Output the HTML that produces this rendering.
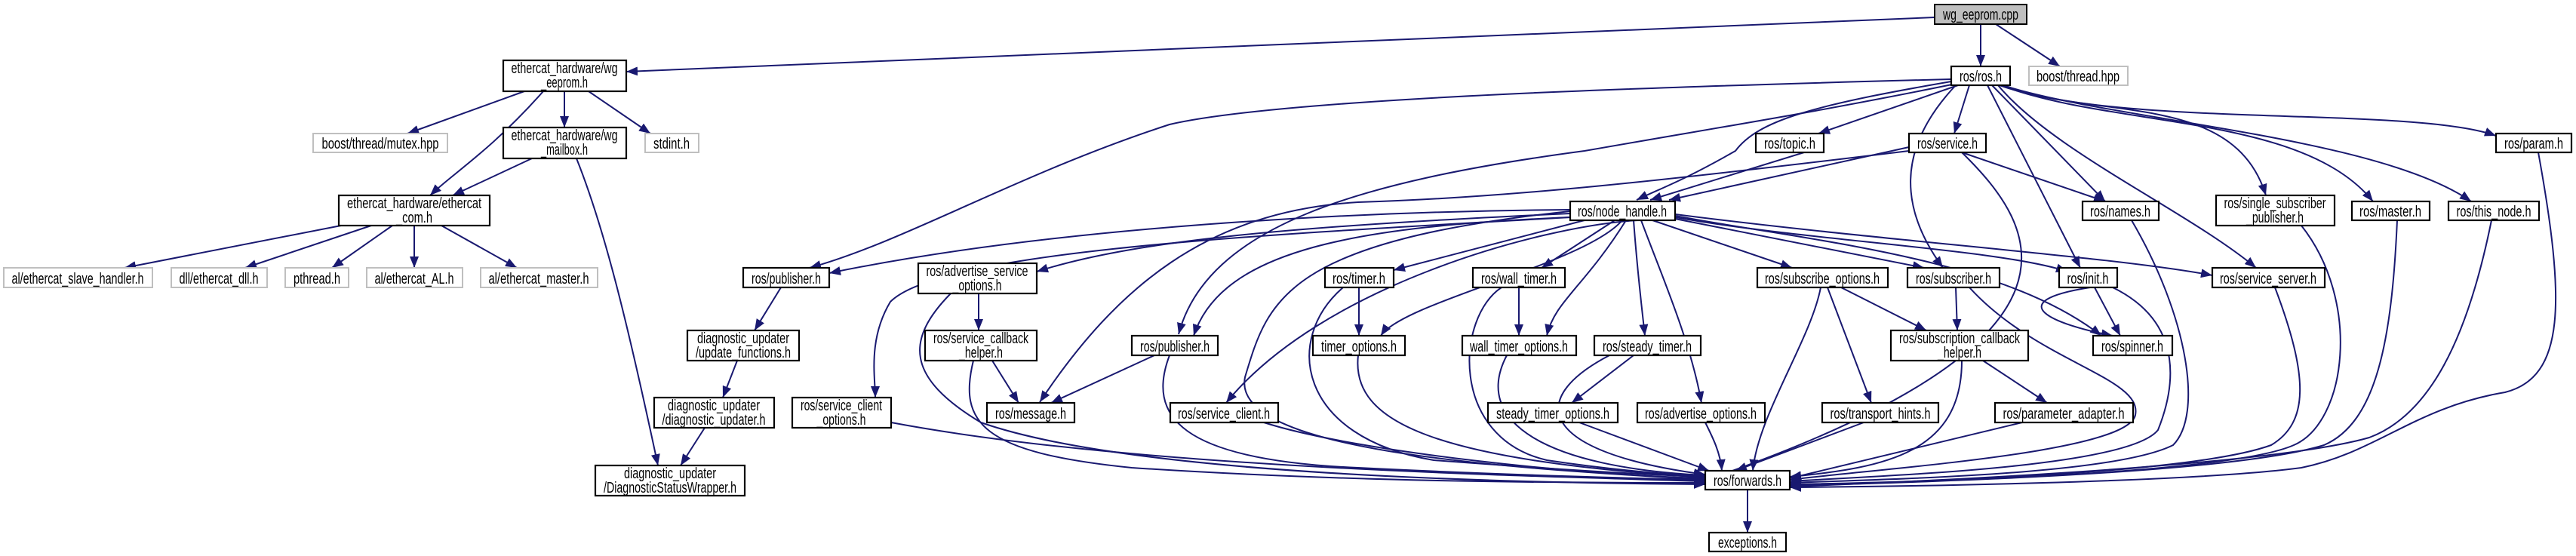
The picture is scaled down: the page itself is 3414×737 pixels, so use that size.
<!DOCTYPE html>
<html><head><meta charset="utf-8"><style>html,body{margin:0;padding:0;background:#fff}svg{display:block}</style></head><body>
<svg xmlns="http://www.w3.org/2000/svg" width="3414" height="737" viewBox="0 0 3414 737">
<defs><marker id="a" markerUnits="userSpaceOnUse" markerWidth="16" markerHeight="12" refX="15" refY="6" orient="auto"><path d="M0,0 L15,6 L0,12 z" fill="#191970"/></marker></defs>
<g fill="none" stroke="#191970" stroke-width="2" marker-end="url(#a)">
<path d="M2564,23 L830,95"/>
<path d="M2625,32 L2625,88"/>
<path d="M2645,32 L2730,88"/>
<path d="M695,121 L540,177"/>
<path d="M720,121 C650,200 600,230 570,259"/>
<path d="M748,121 L748,169"/>
<path d="M780,121 L862,177"/>
<path d="M705,210 L600,259"/>
<path d="M764,210 C800,300 830,420 872,617"/>
<path d="M452,299 L165,355"/>
<path d="M492,299 L325,355"/>
<path d="M520,299 L440,355"/>
<path d="M549,299 L549,355"/>
<path d="M585,299 L685,355"/>
<path d="M1035,381 L1000,438"/>
<path d="M977,478 L958,527"/>
<path d="M934,567 L902,617"/>
<path d="M2586,105 C2200,115 1700,130 1550,165 C1350,230 1200,320 1073,355"/>
<path d="M2586,108 C2400,140 2330,160 2300,200 C2230,240 2200,250 2169,265"/>
<path d="M2587,112 C2400,150 2300,165 2100,200 C1800,240 1600,300 1562,443"/>
<path d="M2595,113 L2410,177"/>
<path d="M2610,113 L2590,177"/>
<path d="M2592,113 C2510,200 2520,280 2575,355"/>
<path d="M2634,113 L2757,355"/>
<path d="M2640,113 L2790,267"/>
<path d="M2648,113 C2720,200 2900,280 2990,355"/>
<path d="M2650,113 C2780,160 2960,120 3003,259"/>
<path d="M2652,113 C2800,170 3050,150 3145,267"/>
<path d="M2654,113 C2800,160 3150,180 3275,267"/>
<path d="M2656,113 C2800,170 3200,140 3308,180"/>
<path d="M2417,194 L2187,265"/>
<path d="M2530,195 L2212,265"/>
<path d="M2530,200 C2200,240 2000,262 1800,268 C1600,280 1480,380 1378,533"/>
<path d="M2600,202 L2790,267"/>
<path d="M2600,202 C2700,300 2800,450 2262,636"/>
<path d="M2081,278 C1800,280 1400,300 1099,362"/>
<path d="M2081,283 C1700,300 1500,320 1374,360"/>
<path d="M2081,288 C1800,300 1620,330 1582,445"/>
<path d="M2081,288 C1700,310 1250,330 1180,400 C1150,450 1160,500 1160,527"/>
<path d="M2100,292 L1847,358"/>
<path d="M2140,292 L2043,355"/>
<path d="M2150,292 C2100,350 1860,400 1830,445"/>
<path d="M2155,292 C2100,380 2060,400 2050,445"/>
<path d="M2165,292 C2170,360 2175,400 2180,445"/>
<path d="M2175,292 C2200,360 2240,450 2255,534"/>
<path d="M2170,292 C2040,300 1750,380 1625,534"/>
<path d="M2190,292 L2375,355"/>
<path d="M2220,290 L2550,355"/>
<path d="M2220,288 C2400,320 2650,330 2740,360"/>
<path d="M2220,286 C2400,320 2650,340 2785,445"/>
<path d="M2220,284 C2500,320 2800,340 2932,365"/>
<path d="M2081,280 C1700,320 1680,400 1650,500 C1630,600 2000,620 2260,636"/>
<path d="M1297,389 L1297,438"/>
<path d="M1315,478 L1350,534"/>
<path d="M1530,471 L1393,534"/>
<path d="M1801,381 L1801,445"/>
<path d="M2013,381 L2013,445"/>
<path d="M2165,471 L2083,534"/>
<path d="M2440,381 L2553,438"/>
<path d="M2422,381 L2480,534"/>
<path d="M2413,381 C2400,450 2330,550 2323,624"/>
<path d="M2592,381 L2594,438"/>
<path d="M2628,478 L2713,534"/>
<path d="M2776,381 L2810,445"/>
<path d="M2770,381 C2650,400 2720,430 2800,445"/>
<path d="M1260,389 C1200,450 1200,500 1300,560 C1500,630 2000,640 2260,642"/>
<path d="M1290,478 C1270,560 1300,600 1500,620 C1800,640 2100,640 2260,640"/>
<path d="M1181,560 C1500,620 2000,630 2260,638"/>
<path d="M1550,471 C1520,550 1560,610 1800,620 C2000,630 2200,635 2260,636"/>
<path d="M1675,560 C1800,600 2100,630 2260,634"/>
<path d="M1800,471 C1790,560 1900,610 2260,633"/>
<path d="M1780,381 C1700,450 1720,580 1900,610 C2100,625 2200,630 2260,632"/>
<path d="M1990,381 C1930,420 1920,580 2050,610 C2150,625 2230,630 2260,631"/>
<path d="M1997,471 C1950,560 2050,620 2260,630"/>
<path d="M2133,471 C2020,530 2040,600 2260,629"/>
<path d="M2093,560 L2265,624"/>
<path d="M2260,560 C2270,580 2280,600 2282,624"/>
<path d="M2470,560 L2300,624"/>
<path d="M2600,478 C2600,600 2500,620 2372,632"/>
<path d="M2680,560 L2372,634"/>
<path d="M2610,381 C2700,480 2840,500 2830,550 C2820,600 2500,620 2372,636"/>
<path d="M2800,381 C2900,430 2880,520 2860,570 C2820,620 2500,630 2372,638"/>
<path d="M2825,292 C2900,420 2920,550 2880,590 C2800,630 2500,635 2372,640"/>
<path d="M3015,381 C3060,500 3060,560 3010,590 C2900,630 2500,640 2372,642"/>
<path d="M3050,299 C3130,400 3110,560 3040,590 C2950,630 2500,640 2372,643"/>
<path d="M3177,292 C3170,450 3150,560 3080,590 C2950,630 2500,640 2372,644"/>
<path d="M3302,292 C3270,450 3220,550 3140,580 C3000,620 2500,640 2372,645"/>
<path d="M3364,202 C3400,400 3400,500 3320,520 C3200,540 3150,600 3050,620 C2900,640 2500,645 2372,646"/>
<path d="M2316,649 L2316,706"/>
</g>
<g font-family="Liberation Sans, DejaVu Sans, sans-serif" font-size="20" fill="#000" text-anchor="middle">
<rect x="2564" y="6" width="122" height="26" fill="#bfbfbf" stroke="#000" stroke-width="2"/><text x="2625" y="26" textLength="100" lengthAdjust="spacingAndGlyphs">wg_eeprom.cpp</text>
<g fill="#fff" stroke="#000" stroke-width="2.2">
<rect x="667" y="80" width="163" height="41"/><rect x="2586" y="88" width="78" height="25"/>
<rect x="667" y="169" width="163" height="41"/><rect x="449" y="259" width="200" height="40"/>
<rect x="985" y="355" width="114" height="26"/><rect x="911" y="438" width="148" height="40"/>
<rect x="867" y="527" width="159" height="40"/><rect x="789" y="617" width="198" height="40"/>
<rect x="2081" y="267" width="139" height="25"/><rect x="2327" y="177" width="90" height="25"/>
<rect x="2530" y="177" width="102" height="25"/><rect x="3308" y="177" width="100" height="25"/>
<rect x="2760" y="267" width="101" height="25"/><rect x="2937" y="259" width="157" height="40"/>
<rect x="3117" y="267" width="103" height="25"/><rect x="3245" y="267" width="120" height="25"/>
<rect x="1217" y="349" width="157" height="40"/><rect x="1756" y="355" width="91" height="26"/>
<rect x="1952" y="355" width="122" height="26"/><rect x="2329" y="355" width="173" height="26"/>
<rect x="2528" y="355" width="122" height="26"/><rect x="2729" y="355" width="77" height="26"/>
<rect x="2932" y="355" width="149" height="26"/><rect x="1226" y="438" width="148" height="40"/>
<rect x="1500" y="445" width="114" height="26"/><rect x="1740" y="445" width="122" height="26"/>
<rect x="1938" y="445" width="151" height="26"/><rect x="2113" y="445" width="141" height="26"/>
<rect x="2506" y="438" width="182" height="40"/><rect x="2774" y="445" width="105" height="26"/>
<rect x="1050" y="527" width="131" height="40"/><rect x="1308" y="534" width="116" height="26"/>
<rect x="1551" y="534" width="143" height="26"/><rect x="1972" y="534" width="172" height="26"/>
<rect x="2170" y="534" width="169" height="26"/><rect x="2415" y="534" width="154" height="26"/>
<rect x="2644" y="534" width="183" height="26"/><rect x="2260" y="624" width="112" height="25"/>
<rect x="2265" y="706" width="102" height="25"/>
</g>
<g fill="#fff" stroke="#bfbfbf" stroke-width="2">
<rect x="2689" y="88" width="131" height="25"/><rect x="415" y="177" width="178" height="25"/>
<rect x="855" y="177" width="71" height="25"/><rect x="5" y="355" width="197" height="26"/>
<rect x="227" y="355" width="127" height="26"/><rect x="378" y="355" width="84" height="26"/>
<rect x="486" y="355" width="127" height="26"/><rect x="637" y="355" width="155" height="26"/>
</g>
<text x="748" y="97" textLength="141" lengthAdjust="spacingAndGlyphs">ethercat_hardware/wg</text><text x="748" y="116" textLength="62" lengthAdjust="spacingAndGlyphs">_eeprom.h</text>
<text x="2625" y="108" textLength="56" lengthAdjust="spacingAndGlyphs">ros/ros.h</text>
<text x="2754" y="108" textLength="110" lengthAdjust="spacingAndGlyphs">boost/thread.hpp</text>
<text x="504" y="197" textLength="155" lengthAdjust="spacingAndGlyphs">boost/thread/mutex.hpp</text>
<text x="748" y="186" textLength="141" lengthAdjust="spacingAndGlyphs">ethercat_hardware/wg</text><text x="748" y="205" textLength="62" lengthAdjust="spacingAndGlyphs">_mailbox.h</text>
<text x="890" y="197" textLength="48" lengthAdjust="spacingAndGlyphs">stdint.h</text>
<text x="549" y="276" textLength="178" lengthAdjust="spacingAndGlyphs">ethercat_hardware/ethercat</text><text x="549" y="295" textLength="48" lengthAdjust="spacingAndGlyphs">_com.h</text>
<text x="103" y="376" textLength="175" lengthAdjust="spacingAndGlyphs">al/ethercat_slave_handler.h</text>
<text x="290" y="376" textLength="105" lengthAdjust="spacingAndGlyphs">dll/ethercat_dll.h</text>
<text x="420" y="376" textLength="62" lengthAdjust="spacingAndGlyphs">pthread.h</text>
<text x="549" y="376" textLength="105" lengthAdjust="spacingAndGlyphs">al/ethercat_AL.h</text>
<text x="714" y="376" textLength="133" lengthAdjust="spacingAndGlyphs">al/ethercat_master.h</text>
<text x="1042" y="376" textLength="92" lengthAdjust="spacingAndGlyphs">ros/publisher.h</text>
<text x="985" y="455" textLength="122" lengthAdjust="spacingAndGlyphs">diagnostic_updater</text><text x="985" y="474" textLength="126" lengthAdjust="spacingAndGlyphs">/update_functions.h</text>
<text x="946" y="544" textLength="122" lengthAdjust="spacingAndGlyphs">diagnostic_updater</text><text x="946" y="563" textLength="137" lengthAdjust="spacingAndGlyphs">/diagnostic_updater.h</text>
<text x="888" y="634" textLength="122" lengthAdjust="spacingAndGlyphs">diagnostic_updater</text><text x="888" y="653" textLength="176" lengthAdjust="spacingAndGlyphs">/DiagnosticStatusWrapper.h</text>
<text x="2150" y="287" textLength="118" lengthAdjust="spacingAndGlyphs">ros/node_handle.h</text>
<text x="2372" y="197" textLength="68" lengthAdjust="spacingAndGlyphs">ros/topic.h</text>
<text x="2581" y="197" textLength="80" lengthAdjust="spacingAndGlyphs">ros/service.h</text>
<text x="3358" y="197" textLength="78" lengthAdjust="spacingAndGlyphs">ros/param.h</text>
<text x="2810" y="287" textLength="80" lengthAdjust="spacingAndGlyphs">ros/names.h</text>
<text x="3015" y="276" textLength="135" lengthAdjust="spacingAndGlyphs">ros/single_subscriber</text><text x="3015" y="295" textLength="76" lengthAdjust="spacingAndGlyphs">_publisher.h</text>
<text x="3168" y="287" textLength="82" lengthAdjust="spacingAndGlyphs">ros/master.h</text>
<text x="3305" y="287" textLength="99" lengthAdjust="spacingAndGlyphs">ros/this_node.h</text>
<text x="1295" y="366" textLength="135" lengthAdjust="spacingAndGlyphs">ros/advertise_service</text><text x="1295" y="385" textLength="65" lengthAdjust="spacingAndGlyphs">_options.h</text>
<text x="1801" y="376" textLength="70" lengthAdjust="spacingAndGlyphs">ros/timer.h</text>
<text x="2013" y="376" textLength="100" lengthAdjust="spacingAndGlyphs">ros/wall_timer.h</text>
<text x="2415" y="376" textLength="152" lengthAdjust="spacingAndGlyphs">ros/subscribe_options.h</text>
<text x="2589" y="376" textLength="100" lengthAdjust="spacingAndGlyphs">ros/subscriber.h</text>
<text x="2767" y="376" textLength="55" lengthAdjust="spacingAndGlyphs">ros/init.h</text>
<text x="3006" y="376" textLength="128" lengthAdjust="spacingAndGlyphs">ros/service_server.h</text>
<text x="1300" y="455" textLength="126" lengthAdjust="spacingAndGlyphs">ros/service_callback</text><text x="1300" y="474" textLength="58" lengthAdjust="spacingAndGlyphs">_helper.h</text>
<text x="1557" y="466" textLength="92" lengthAdjust="spacingAndGlyphs">ros/publisher.h</text>
<text x="1801" y="466" textLength="100" lengthAdjust="spacingAndGlyphs">timer_options.h</text>
<text x="2013" y="466" textLength="130" lengthAdjust="spacingAndGlyphs">wall_timer_options.h</text>
<text x="2183" y="466" textLength="118" lengthAdjust="spacingAndGlyphs">ros/steady_timer.h</text>
<text x="2597" y="455" textLength="160" lengthAdjust="spacingAndGlyphs">ros/subscription_callback</text><text x="2597" y="474" textLength="58" lengthAdjust="spacingAndGlyphs">_helper.h</text>
<text x="2826" y="466" textLength="82" lengthAdjust="spacingAndGlyphs">ros/spinner.h</text>
<text x="1115" y="544" textLength="108" lengthAdjust="spacingAndGlyphs">ros/service_client</text><text x="1115" y="563" textLength="65" lengthAdjust="spacingAndGlyphs">_options.h</text>
<text x="1366" y="555" textLength="94" lengthAdjust="spacingAndGlyphs">ros/message.h</text>
<text x="1622" y="555" textLength="122" lengthAdjust="spacingAndGlyphs">ros/service_client.h</text>
<text x="2058" y="555" textLength="150" lengthAdjust="spacingAndGlyphs">steady_timer_options.h</text>
<text x="2254" y="555" textLength="148" lengthAdjust="spacingAndGlyphs">ros/advertise_options.h</text>
<text x="2492" y="555" textLength="133" lengthAdjust="spacingAndGlyphs">ros/transport_hints.h</text>
<text x="2735" y="555" textLength="161" lengthAdjust="spacingAndGlyphs">ros/parameter_adapter.h</text>
<text x="2316" y="644" textLength="90" lengthAdjust="spacingAndGlyphs">ros/forwards.h</text>
<text x="2316" y="726" textLength="78" lengthAdjust="spacingAndGlyphs">exceptions.h</text>
</g>
</svg>
</body></html>
